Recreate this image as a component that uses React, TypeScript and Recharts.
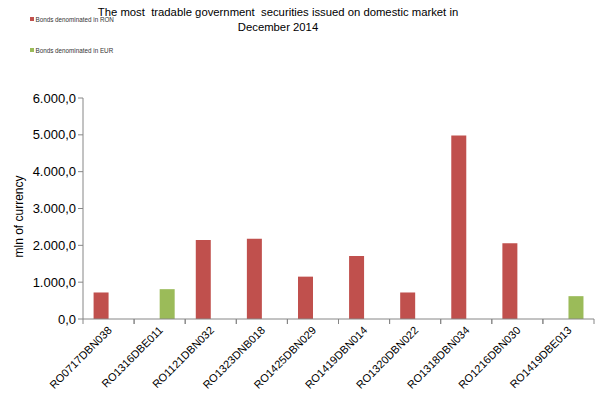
import React from "react";
import { BarChart, Bar, XAxis, YAxis } from "recharts";

// categories and values (mln of currency)
const categories = [
  "RO0717DBN038",
  "RO1316DBE011",
  "RO1121DBN032",
  "RO1323DNB018",
  "RO1425DBN029",
  "RO1419DBN014",
  "RO1320DBN022",
  "RO1318DBN034",
  "RO1216DBN030",
  "RO1419DBE013",
];
const ronValues = [720, null, 2145, 2180, 1150, 1710, 720, 4985, 2055, null];
const eurValues = [null, 810, null, null, null, null, null, null, null, 620];
const yTicks = [0, 1000, 2000, 3000, 4000, 5000, 6000];
const seriesNames = ["Bonds denominated in RON", "Bonds denominated in EUR"];

const RED = "#C0504D";
const GREEN = "#9BBB59";
const AXIS = "#868686";
const FONT = "'Liberation Sans', Arial, sans-serif";

const data = categories.map((name, i) => ({
  name,
  ron: ronValues[i],
  eur: eurValues[i],
}));

// 6000 -> "6.000,0"
const fmt = (v: number) =>
  v.toFixed(1).replace(".", ",").replace(/\B(?=(\d{3})+(?!\d))/g, ".");

const XTick = (props: any) => {
  const { x, y, payload } = props;
  const half = payload.offset || 0;
  return (
    <g>
      <line x1={x - half} x2={x - half} y1={y - 8} y2={y - 3} stroke={AXIS} />
      <line x1={x + half} x2={x + half} y1={y - 8} y2={y - 3} stroke={AXIS} />
      <text
        x={x + 4}
        y={y + 4}
        transform={`rotate(-45, ${x + 4}, ${y + 4})`}
        textAnchor="end"
        fontSize={11}
        fontFamily={FONT}
        fill="#000"
      >
        {payload.value}
      </text>
    </g>
  );
};

export default function App() {
  const colors = [RED, GREEN];
  return (
    <div style={{ position: "relative", width: 598, height: 396, background: "#fff" }}>
      <style>{"body{margin:0}"}</style>
      <div
        style={{
          position: "absolute",
          left: 0,
          width: 556,
          top: 5,
          textAlign: "center",
          fontFamily: FONT,
          fontSize: 11.3,
          lineHeight: "15px",
          color: "#000",
          whiteSpace: "pre",
          zIndex: 2,
        }}
      >
        {"The most  tradable government  securities issued on domestic market in\nDecember 2014"}
      </div>
      {seriesNames.map((s, i) => (
        <div
          key={`lg-${i}`}
          style={{
            position: "absolute",
            left: 30,
            top: 15 + i * 31,
            height: 8,
            display: "flex",
            alignItems: "center",
            fontFamily: FONT,
            fontSize: 6.3,
            color: "#333",
            whiteSpace: "nowrap",
            zIndex: 2,
          }}
        >
          <span style={{ width: 4, height: 4, background: colors[i], marginRight: 1.5 }} />
          <span>{s}</span>
        </div>
      ))}
      <BarChart
        width={598}
        height={396}
        data={data}
        margin={{ top: 98, right: 4, bottom: 0, left: 0 }}
        barCategoryGap="20.7%"
        barGap={0}
      >
        <XAxis
          dataKey="name"
          interval={0}
          height={77}
          axisLine={{ stroke: AXIS }}
          tickLine={false}
          tick={<XTick />}
        />
        <YAxis
          width={83}
          domain={[0, 6000]}
          ticks={yTicks}
          tickFormatter={fmt}
          axisLine={{ stroke: AXIS }}
          tickLine={{ stroke: AXIS }}
          tickSize={5}
          tick={{ fontSize: 13, fill: "#000", fontFamily: FONT }}
          label={{
            value: "mln of currency",
            angle: -90,
            position: "center",
            dx: -23,
            dy: 8,
            style: { fontSize: 12, fill: "#000", fontFamily: FONT },
          }}
        />
        <Bar dataKey="ron" name={seriesNames[0]} fill={RED} isAnimationActive={false} />
        <Bar dataKey="eur" name={seriesNames[1]} fill={GREEN} isAnimationActive={false} />
      </BarChart>
    </div>
  );
}
